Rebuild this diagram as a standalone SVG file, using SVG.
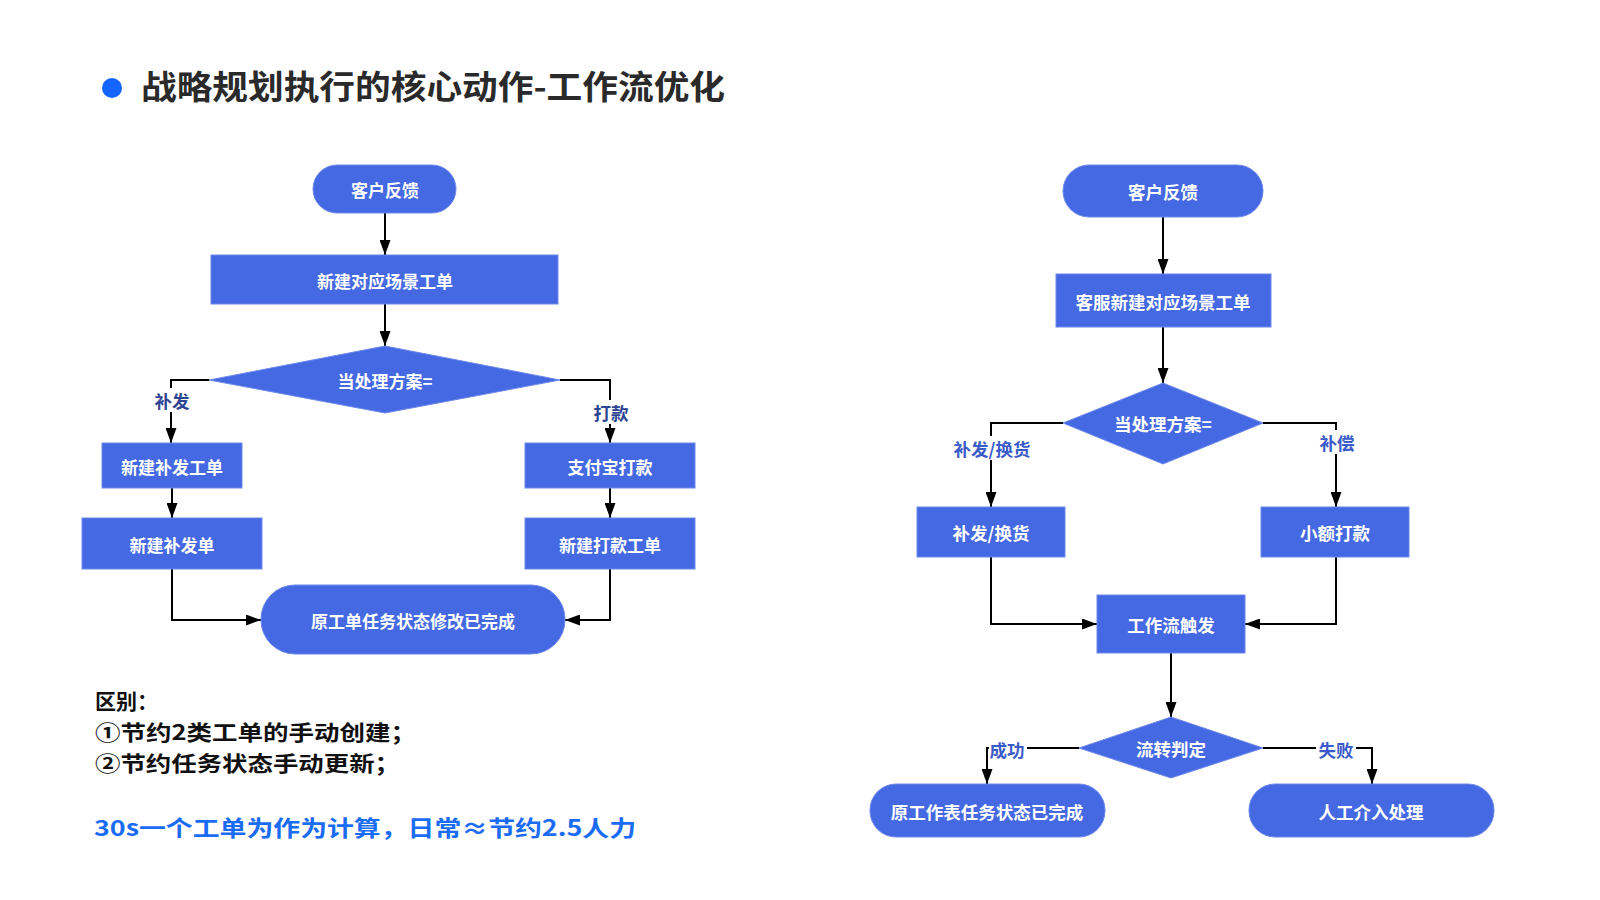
<svg xmlns="http://www.w3.org/2000/svg" width="1600" height="900" viewBox="0 0 1600 900">
<defs>
<marker id="arr" viewBox="0 0 10 10" refX="10" refY="5" markerWidth="15" markerHeight="11" markerUnits="userSpaceOnUse" orient="auto" preserveAspectRatio="none">
<path d="M0,0 L10,5 L0,10 z" fill="#000"/>
</marker>
<style>
.n{fill:#4568e3;stroke:#6d88ea;stroke-width:1}
.t{font-family:"Noto Sans CJK SC","Noto Sans",sans-serif;font-weight:bold;font-size:17px;fill:#fff;text-anchor:middle;dominant-baseline:central}
.tr{font-size:17.5px}
.c{fill:none;stroke:#000;stroke-width:2;marker-end:url(#arr)}
.lb{font-family:"Noto Sans CJK SC","Noto Sans",sans-serif;font-weight:bold;font-size:17.5px;fill:#3a5bc8;text-anchor:middle;dominant-baseline:central}
.lbd{fill:#2e4592}
.bg{fill:#fff}
.note{font-family:"Noto Sans CJK SC","Noto Sans",sans-serif;font-weight:bold;font-size:21px;fill:#111}
</style>
</defs>
<rect width="1600" height="900" fill="#fff"/>
<g id="title">
<circle cx="112" cy="88" r="10" fill="#1464ff"/>
<text x="141" y="85" textLength="584" lengthAdjust="spacingAndGlyphs" style="font-family:'Noto Sans CJK SC',sans-serif;font-weight:bold;font-size:33px;fill:#2a2a2a;dominant-baseline:central">战略规划执行的核心动作-工作流优化</text>
</g>
<g id="connectors">
<path class="c" d="M385,213 V255"/>
<path class="c" d="M385,304 V346"/>
<path class="c" d="M209,380 H171 V443"/>
<path class="c" d="M560,380 H610 V443"/>
<path class="c" d="M172,488 V518"/>
<path class="c" d="M610,488 V518"/>
<path class="c" d="M172,569 V620 H261"/>
<path class="c" d="M610,569 V620 H565"/>
<path class="c" d="M1163,217 V274"/>
<path class="c" d="M1163,327 V383"/>
<path class="c" d="M1063,423 H991 V507"/>
<path class="c" d="M1263,423 H1336 V507"/>
<path class="c" d="M991,557 V624 H1097"/>
<path class="c" d="M1336,557 V624 H1245"/>
<path class="c" d="M1171,653 V717"/>
<path class="c" d="M1079,748 H987 V784"/>
<path class="c" d="M1263,748 H1372 V784"/>
<rect class="bg" x="153" y="388" width="38" height="24"/>
<text class="lb lbd" x="172" y="400">补发</text>
<rect class="bg" x="592" y="400" width="38" height="24"/>
<text class="lb lbd" x="611" y="412">打款</text>
<rect class="bg" x="950" y="436" width="84" height="24"/>
<text class="lb" x="992" y="448">补发/换货</text>
<rect class="bg" x="1317" y="430" width="40" height="24"/>
<text class="lb" x="1337" y="442">补偿</text>
<rect class="bg" x="989" y="737" width="38" height="22"/>
<text class="lb" x="1007" y="749">成功</text>
<rect class="bg" x="1316" y="737" width="40" height="22"/>
<text class="lb" x="1336" y="749">失败</text>
</g>
<g id="l_start"><rect class="n" x="313" y="165" width="143" height="48" rx="24"/><text class="t" x="385" y="189">客户反馈</text></g>
<g id="l_create"><rect class="n" x="211" y="255" width="347" height="49"/><text class="t" x="385" y="280">新建对应场景工单</text></g>
<g id="l_decide"><polygon class="n" points="209,380 385,346 560,380 385,413"/><text class="t" x="385" y="380">当处理方案=</text></g>
<g id="l_reship"><rect class="n" x="102" y="443" width="140" height="45"/><text class="t" x="172" y="466">新建补发工单</text></g>
<g id="l_reship2"><rect class="n" x="82" y="518" width="180" height="51"/><text class="t" x="172" y="544">新建补发单</text></g>
<g id="l_alipay"><rect class="n" x="525" y="443" width="170" height="45"/><text class="t" x="610" y="466">支付宝打款</text></g>
<g id="l_pay"><rect class="n" x="525" y="518" width="170" height="51"/><text class="t" x="610" y="544">新建打款工单</text></g>
<g id="l_done"><rect class="n" x="261" y="585" width="304" height="69" rx="34"/><text class="t" x="413" y="620">原工单任务状态修改已完成</text></g>
<g id="r_start"><rect class="n" x="1063" y="165" width="200" height="52" rx="26"/><text class="t tr" x="1163" y="191">客户反馈</text></g>
<g id="r_create"><rect class="n" x="1056" y="274" width="215" height="53"/><text class="t tr" x="1163" y="301">客服新建对应场景工单</text></g>
<g id="r_decide"><polygon class="n" points="1063,423 1163,383 1263,423 1163,464"/><text class="t tr" x="1163" y="423">当处理方案=</text></g>
<g id="r_reship"><rect class="n" x="917" y="507" width="148" height="50"/><text class="t tr" x="991" y="532">补发/换货</text></g>
<g id="r_pay"><rect class="n" x="1261" y="507" width="148" height="50"/><text class="t tr" x="1335" y="532">小额打款</text></g>
<g id="r_flow"><rect class="n" x="1097" y="595" width="148" height="58"/><text class="t tr" x="1171" y="624">工作流触发</text></g>
<g id="r_judge"><polygon class="n" points="1079,748 1171,717 1263,748 1171,778"/><text class="t tr" x="1171" y="748">流转判定</text></g>
<g id="r_done"><rect class="n" x="870" y="784" width="235" height="53" rx="26"/><text class="t tr" x="987" y="811">原工作表任务状态已完成</text></g>
<g id="r_manual"><rect class="n" x="1249" y="784" width="245" height="53" rx="26"/><text class="t tr" x="1371" y="811">人工介入处理</text></g>
<g id="notes">
<text class="note" x="95" y="709" textLength="63" lengthAdjust="spacingAndGlyphs">区别：</text>
<text class="note" x="95" y="740" textLength="321" lengthAdjust="spacingAndGlyphs">①节约2类工单的手动创建；</text>
<text class="note" x="95" y="771" textLength="305" lengthAdjust="spacingAndGlyphs">②节约任务状态手动更新；</text>
<text class="note" x="94" y="836" textLength="542" lengthAdjust="spacingAndGlyphs" style="font-size:22px;fill:#1a6cf5">30s一个工单为作为计算，日常≈节约2.5人力</text>
</g>
</svg>
